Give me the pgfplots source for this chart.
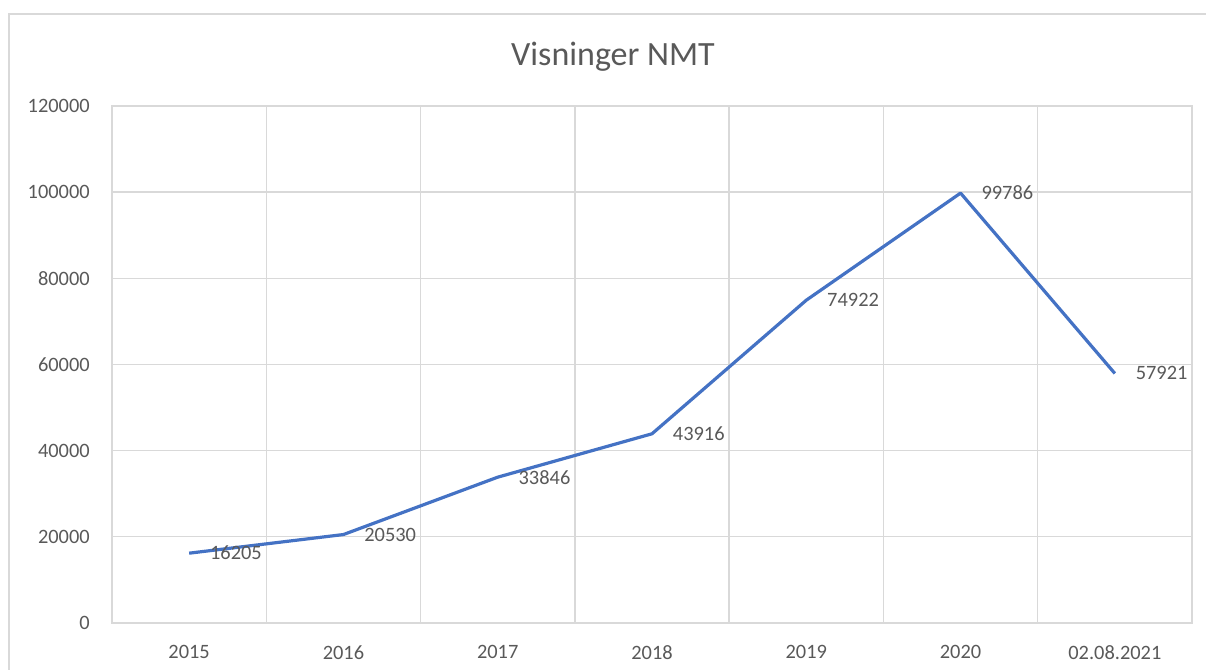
\documentclass[border=0pt]{standalone}
\usepackage{pgfplots}
\pgfplotsset{compat=1.18}
\usepackage{fontspec}
\setmainfont{Carlito}
\definecolor{txt}{HTML}{595959}
\definecolor{gridc}{HTML}{D9D9D9}
\definecolor{lineblue}{HTML}{4472C4}
\begin{document}
\begin{tikzpicture}
\begin{axis}[
  name=ax,
  at={(0,0)}, anchor=south west,
  scale only axis,
  width=810pt, height=387.75pt,
  xmin=-0.5, xmax=6.5,
  ymin=0, ymax=120000,
  scaled y ticks=false,
  xtick={0,1,2,3,4,5,6},
  xticklabels={2015,2016,2017,2018,2019,2020,02.08.2021},
  minor xtick={-0.5,0.5,1.5,2.5,3.5,4.5,5.5,6.5},
  xminorgrids=true,
  ytick={0,20000,40000,60000,80000,100000,120000},
  yticklabels={0,20000,40000,60000,80000,100000,120000},
  ymajorgrids=true,
  major tick length=0pt, minor tick length=0pt,
  grid style={gridc, line width=1pt},
  minor grid style={gridc, line width=1pt},
  axis line style={gridc, line width=1pt},
  tick style={draw=none},
  ticklabel style={font=\fontsize{15.3pt}{18pt}\selectfont, text=txt},
  yticklabel style={anchor=east, inner sep=0pt, xshift=-16.5pt},
  xticklabel style={anchor=north, inner sep=0pt, yshift=-16.5pt},
  clip=false,
]
\addplot[lineblue, line width=2.4pt, line join=round,
  nodes near coords, point meta=explicit symbolic,
  every node near coord/.append style={anchor=west, inner sep=0pt, xshift=14.5pt, yshift=0pt,
     font=\fontsize{15.3pt}{18pt}\selectfont, text=txt}]
coordinates {
 (0,16205) [16205]
 (1,20530) [20530]
 (2,33846) [33846]
 (3,43916) [43916]
 (4,74922) [74922]
 (5,99786) [99786]
 (6,57921) [57921]
};
\end{axis}
\coordinate (img) at ([xshift=-84pt, yshift=467.25pt]ax.south west);
\begin{scope}[shift={(img)}, x=0.75pt, y=-0.75pt]
  \draw[gridc, line width=1.5pt] (9,670) -- (9,14) -- (1206,14);
  \node[text=txt, font=\fontsize{25.5pt}{30pt}\selectfont] at (613,57) {Visninger NMT};
  \pgfresetboundingbox
  \useasboundingbox (0,0) rectangle (1206,670);
\end{scope}
\end{tikzpicture}
\end{document}
